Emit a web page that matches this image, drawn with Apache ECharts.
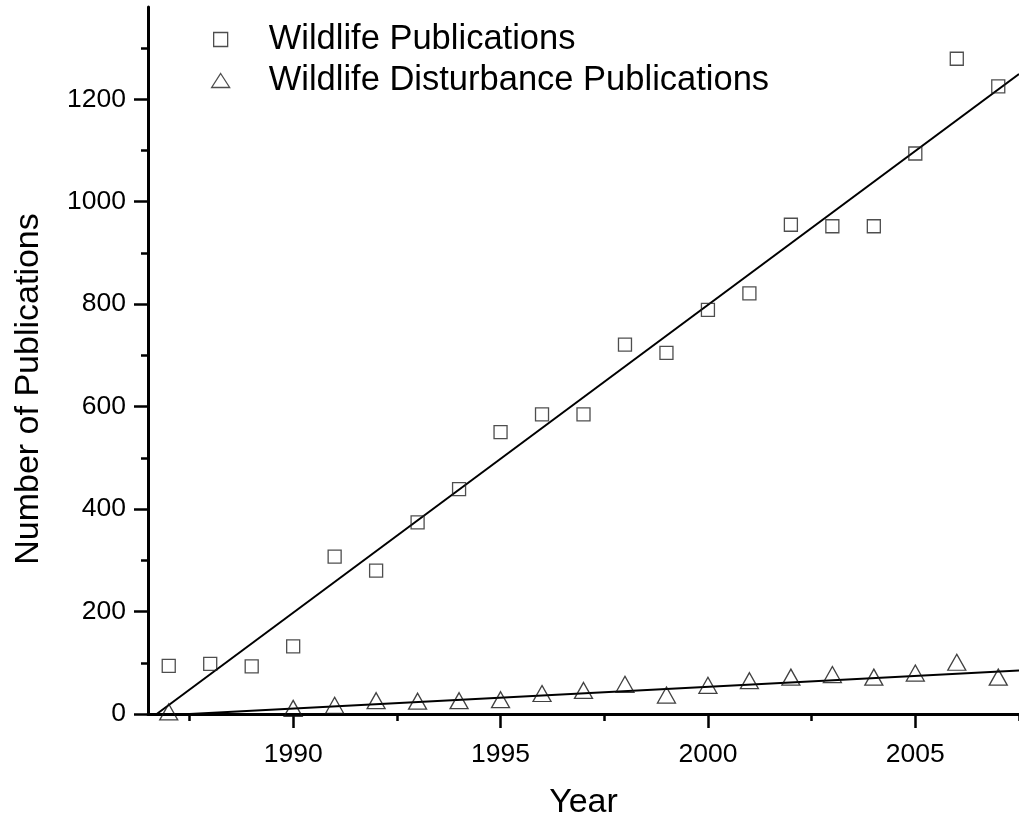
<!DOCTYPE html>
<html>
<head>
<meta charset="utf-8">
<script src="https://cdn.jsdelivr.net/npm/echarts@6/dist/echarts.min.js"></script>
<style>
  html, body { margin: 0; padding: 0; background: #fff; }
  #chart { width: 1019px; height: 825px; }
</style>
</head>
<body>
<div id="chart"></div>
<script>
var years = [1987, 1988, 1989, 1990, 1991, 1992, 1993, 1994, 1995, 1996, 1997,
             1998, 1999, 2000, 2001, 2002, 2003, 2004, 2005, 2006, 2007];
var wildlifePubs = [94, 98, 93, 132, 307, 280, 374, 439, 550, 585, 585,
                    721, 705, 789, 821, 955, 952, 952, 1094, 1279, 1225];
var disturbancePubs = [4, null, null, 11, 17, 26, 25, 26, 28, 40, 46,
                       58, 37, 56, 65, 72, 77, 72, 80, 101, 72];

// fitted lines
var wildlifeFitX = [1986.71, 2007.5];
var wildlifeFitY = [0, 1249];
var disturbanceFitX = [1987.5, 2007.5];
var disturbanceFitY = [0, 85];

var xMajorTicks = [1990, 1995, 2000, 2005];
var xMinorTicks = [1987.5, 1992.5, 1997.5, 2002.5, 2007.5];
var yMajorTicks = [0, 200, 400, 600, 800, 1000, 1200];
var yMinorTicks = [100, 300, 500, 700, 900, 1100, 1300];

function pairs(xs, ys) {
    var out = [];
    for (var i = 0; i < xs.length; i++) {
        if (ys[i] !== null) out.push([xs[i], ys[i]]);
    }
    return out;
}

var font = 'Liberation Sans, Arial, sans-serif';
var xMin = 1986.5, xMax = 2007.5, yMin = 0, yMax = 1380;
var plain = function (v) { return String(v); };

var myChart = echarts.init(document.getElementById('chart'));

myChart.setOption({
    animation: false,
    grid: { left: 148, top: 7, width: 873, height: 708 },
    legend: {
        orient: 'vertical',
        left: 206,
        top: 17,
        itemWidth: 18,
        itemHeight: 14,
        itemGap: 6,
        symbolKeepAspect: true,
        data: [
            { name: 'Wildlife Publications', icon: 'path://M0,0L10,0L10,10L0,10Z' },
            { name: 'Wildlife Disturbance Publications', icon: 'triangle' }
        ],
        itemStyle: { color: '#fff', borderColor: '#222', borderWidth: 1.3 },
        textStyle: { fontFamily: font, fontSize: 34.5, color: '#000', lineHeight: 35, padding: [0, 0, 0, 34] }
    },
    xAxis: [
        {
            type: 'value', min: xMin, max: xMax, position: 'bottom',
            name: 'Year', nameLocation: 'middle', nameGap: 72,
            nameTextStyle: { fontFamily: font, fontSize: 34, color: '#000' },
            axisLine: { lineStyle: { color: '#000', width: 3 } },
            axisTick: { customValues: xMajorTicks, length: 14, lineStyle: { color: '#000', width: 2.5 } },
            axisLabel: { customValues: xMajorTicks, formatter: plain, margin: 27, fontFamily: font, fontSize: 26.5, color: '#000' },
            splitLine: { show: false }
        },
        {
            type: 'value', min: xMin, max: xMax, position: 'bottom',
            axisLine: { show: false },
            axisTick: { customValues: xMinorTicks, length: 7, lineStyle: { color: '#000', width: 2.5 } },
            axisLabel: { show: false },
            splitLine: { show: false }
        }
    ],
    yAxis: [
        {
            type: 'value', min: yMin, max: yMax, position: 'left',
            axisLine: { show: true, lineStyle: { color: '#000', width: 3 } },
            axisTick: { show: true, customValues: yMajorTicks, length: 14, lineStyle: { color: '#000', width: 2.5 } },
            axisLabel: { customValues: yMajorTicks, formatter: plain, margin: 22, fontFamily: font, fontSize: 26.5, color: '#000' },
            splitLine: { show: false }
        },
        {
            type: 'value', min: yMin, max: yMax, position: 'left',
            axisLine: { show: false },
            axisTick: { show: true, customValues: yMinorTicks, length: 7, lineStyle: { color: '#000', width: 2.5 } },
            axisLabel: { show: false },
            splitLine: { show: false }
        }
    ],
    graphic: [
        {
            type: 'text', x: 29, y: 389, rotation: Math.PI / 2,
            style: {
                text: 'Number of Publications', fontFamily: font, fontSize: 34, fill: '#000',
                textAlign: 'center', textVerticalAlign: 'middle'
            }
        }
    ],
    series: [
        {
            name: 'Wildlife Publications fit', type: 'line',
            data: pairs(wildlifeFitX, wildlifeFitY),
            showSymbol: false, silent: true,
            lineStyle: { color: '#000', width: 2 }, z: 1
        },
        {
            name: 'Wildlife Disturbance Publications fit', type: 'line',
            data: pairs(disturbanceFitX, disturbanceFitY),
            showSymbol: false, silent: true,
            lineStyle: { color: '#000', width: 2 }, z: 1
        },
        {
            name: 'Wildlife Publications', type: 'scatter',
            data: pairs(years, wildlifePubs),
            symbol: 'rect', symbolSize: 13,
            itemStyle: { color: 'rgba(255,255,255,0)', borderColor: '#222', borderWidth: 1.3 }, z: 3
        },
        {
            name: 'Wildlife Disturbance Publications', type: 'scatter',
            data: pairs(years, disturbancePubs),
            symbol: 'triangle', symbolSize: [18, 16],
            itemStyle: { color: 'rgba(255,255,255,0)', borderColor: '#111', borderWidth: 1.3 }, z: 3
        }
    ]
});
</script>
</body>
</html>
